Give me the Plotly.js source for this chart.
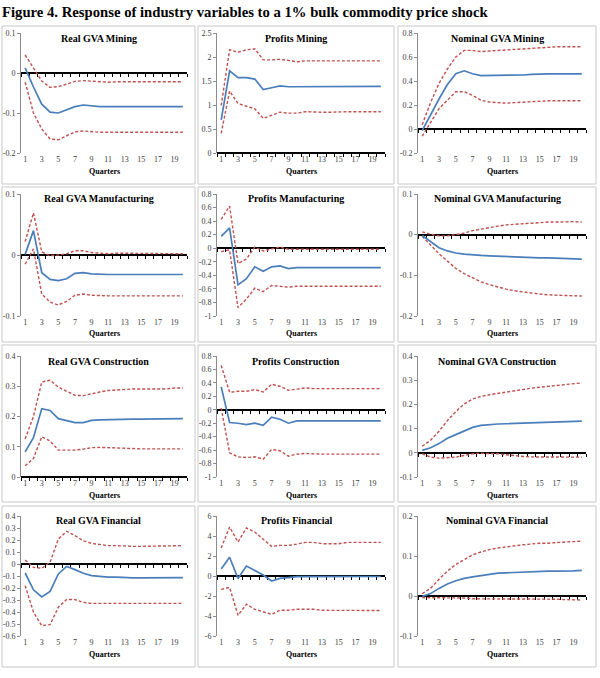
<!DOCTYPE html>
<html>
<head>
<meta charset="utf-8">
<script src="https://cdn.plot.ly/plotly-3.0.1.min.js"></script>
<style>
  html, body { margin: 0; padding: 0; background: #ffffff; }
  #chart { width: 600px; height: 678px; }
</style>
</head>
<body>
<div id="chart"></div>
<script>
// Impulse responses: quarters 1..20, median response with upper/lower bands
const quarters = [1,2,3,4,5,6,7,8,9,10,11,12,13,14,15,16,17,18,19,20];
const quarterTicks = [1,3,5,7,9,11,13,15,17,19];

const realGvaMiningMid   = [0.013,-0.035,-0.078,-0.098,-0.1,-0.092,-0.084,-0.08,-0.082,-0.084,-0.084,-0.084,-0.084,-0.084,-0.084,-0.084,-0.084,-0.084,-0.084,-0.084];
const realGvaMiningUpper = [0.045,0.012,-0.02,-0.036,-0.034,-0.028,-0.021,-0.019,-0.02,-0.022,-0.023,-0.022,-0.022,-0.022,-0.022,-0.022,-0.022,-0.022,-0.022,-0.022];
const realGvaMiningLower = [-0.023,-0.1,-0.14,-0.165,-0.167,-0.157,-0.147,-0.145,-0.147,-0.148,-0.148,-0.148,-0.148,-0.148,-0.148,-0.148,-0.148,-0.148,-0.148,-0.148];

const profitsMiningMid   = [0.69,1.71,1.57,1.57,1.54,1.32,1.36,1.40,1.38,1.38,1.39,1.39,1.38,1.39,1.39,1.39,1.39,1.39,1.39,1.39];
const profitsMiningUpper = [0.99,2.15,2.10,2.15,2.17,1.94,1.94,1.95,1.93,1.90,1.92,1.92,1.92,1.92,1.92,1.92,1.92,1.92,1.92,1.92];
const profitsMiningLower = [0.41,1.29,1.03,0.98,0.92,0.72,0.79,0.85,0.83,0.83,0.86,0.85,0.85,0.85,0.86,0.86,0.86,0.86,0.86,0.86];

const nominalGvaMiningMid   = [-0.014,0.12,0.25,0.37,0.46,0.485,0.46,0.445,0.445,0.445,0.445,0.445,0.45,0.455,0.46,0.46,0.46,0.46,0.46,0.46];
const nominalGvaMiningUpper = [0.036,0.22,0.38,0.5,0.6,0.655,0.655,0.645,0.65,0.655,0.66,0.665,0.67,0.675,0.68,0.685,0.685,0.685,0.685,0.685];
const nominalGvaMiningLower = [-0.06,0.05,0.17,0.24,0.31,0.31,0.28,0.24,0.225,0.22,0.215,0.22,0.225,0.23,0.235,0.235,0.235,0.235,0.235,0.235];

const realGvaManufMid   = [0.001,0.04,-0.029,-0.04,-0.042,-0.039,-0.03,-0.029,-0.031,-0.032,-0.032,-0.032,-0.032,-0.032,-0.032,-0.032,-0.032,-0.032,-0.032,-0.032];
const realGvaManufUpper = [0.022,0.069,0.005,-0.001,0,0.002,0.007,0.007,0.004,0.003,0.002,0.003,0.003,0.003,0.002,0.002,0.002,0.002,0.002,0.002];
const realGvaManufLower = [-0.015,0.01,-0.064,-0.077,-0.082,-0.076,-0.066,-0.064,-0.066,-0.067,-0.067,-0.067,-0.067,-0.067,-0.067,-0.067,-0.067,-0.067,-0.067,-0.067];

const profitsManufMid   = [0.175,0.30,-0.54,-0.45,-0.275,-0.34,-0.275,-0.26,-0.30,-0.285,-0.285,-0.285,-0.285,-0.285,-0.285,-0.285,-0.285,-0.285,-0.285,-0.285];
const profitsManufUpper = [0.425,0.62,-0.225,-0.16,0.015,-0.04,-0.01,0.015,-0.015,-0.015,-0.015,-0.015,-0.015,-0.015,-0.015,-0.015,-0.015,-0.015,-0.015,-0.015];
const profitsManufLower = [-0.05,-0.025,-0.875,-0.75,-0.59,-0.64,-0.55,-0.56,-0.575,-0.56,-0.56,-0.56,-0.56,-0.56,-0.56,-0.56,-0.56,-0.56,-0.56,-0.56];

const nominalGvaManufMid   = [-0.002,-0.018,-0.032,-0.04,-0.045,-0.048,-0.05,-0.051,-0.052,-0.053,-0.054,-0.055,-0.055,-0.056,-0.057,-0.057,-0.058,-0.058,-0.059,-0.06];
const nominalGvaManufUpper = [0.007,0.001,-0.003,-0.003,0,0.004,0.01,0.014,0.018,0.021,0.024,0.026,0.027,0.028,0.03,0.031,0.031,0.032,0.032,0.031];
const nominalGvaManufLower = [-0.004,-0.026,-0.047,-0.065,-0.083,-0.096,-0.106,-0.116,-0.123,-0.129,-0.134,-0.138,-0.141,-0.144,-0.146,-0.148,-0.149,-0.15,-0.151,-0.151];

const realGvaConstrMid   = [0.083,0.13,0.226,0.22,0.193,0.186,0.18,0.18,0.187,0.189,0.19,0.191,0.191,0.191,0.191,0.191,0.191,0.193,0.193,0.193];
const realGvaConstrUpper = [0.126,0.2,0.314,0.32,0.297,0.283,0.27,0.269,0.276,0.281,0.286,0.288,0.29,0.291,0.291,0.291,0.291,0.291,0.294,0.294];
const realGvaConstrLower = [0.037,0.061,0.133,0.119,0.089,0.089,0.089,0.092,0.097,0.098,0.097,0.094,0.093,0.093,0.093,0.093,0.093,0.093,0.093,0.093];

const profitsConstrMid   = [0.34,-0.19,-0.2,-0.22,-0.2,-0.23,-0.11,-0.14,-0.2,-0.165,-0.165,-0.165,-0.165,-0.165,-0.165,-0.165,-0.165,-0.165,-0.165,-0.165];
const profitsConstrUpper = [0.66,0.26,0.275,0.275,0.3,0.265,0.38,0.35,0.29,0.31,0.325,0.315,0.315,0.315,0.315,0.315,0.315,0.315,0.315,0.315];
const profitsConstrLower = [0.025,-0.64,-0.7,-0.71,-0.7,-0.735,-0.59,-0.61,-0.69,-0.66,-0.65,-0.66,-0.66,-0.66,-0.66,-0.66,-0.66,-0.66,-0.66,-0.66];

const nominalGvaConstrMid   = [0.01,0.021,0.038,0.06,0.075,0.091,0.105,0.113,0.117,0.119,0.12,0.121,0.123,0.124,0.126,0.127,0.128,0.13,0.131,0.131];
const nominalGvaConstrUpper = [0.027,0.052,0.089,0.133,0.17,0.202,0.222,0.233,0.24,0.246,0.251,0.255,0.261,0.267,0.271,0.275,0.279,0.282,0.286,0.289];
const nominalGvaConstrLower = [-0.004,-0.018,-0.022,-0.021,-0.018,-0.011,-0.004,-0.002,-0.002,-0.004,-0.008,-0.013,-0.015,-0.017,-0.017,-0.017,-0.018,-0.018,-0.018,-0.018];

const realGvaFinMid   = [-0.075,-0.215,-0.275,-0.228,-0.083,-0.02,-0.047,-0.077,-0.097,-0.105,-0.11,-0.11,-0.116,-0.116,-0.116,-0.116,-0.113,-0.113,-0.113,-0.113];
const realGvaFinUpper = [0.033,-0.028,-0.036,0.014,0.208,0.272,0.236,0.194,0.172,0.16,0.153,0.153,0.147,0.147,0.147,0.147,0.153,0.153,0.153,0.153];
const realGvaFinLower = [-0.18,-0.4,-0.514,-0.505,-0.36,-0.295,-0.297,-0.32,-0.328,-0.328,-0.328,-0.328,-0.333,-0.333,-0.333,-0.333,-0.328,-0.328,-0.328,-0.328];

const profitsFinMid   = [0.7,1.88,-0.24,1.0,0.54,0.1,-0.5,-0.24,-0.17,-0.07,-0.06,-0.05,-0.05,-0.05,-0.05,-0.05,-0.05,-0.05,-0.05,-0.05];
const profitsFinUpper = [2.8,4.9,3.4,4.8,4.4,3.7,2.96,3.06,3.06,3.19,3.36,3.36,3.23,3.23,3.23,3.36,3.36,3.36,3.36,3.36];
const profitsFinLower = [-1.34,-1.14,-3.93,-2.82,-3.33,-3.6,-3.83,-3.43,-3.43,-3.33,-3.33,-3.33,-3.43,-3.43,-3.45,-3.45,-3.45,-3.45,-3.45,-3.45];

const nominalGvaFinMid   = [-0.001,0.006,0.019,0.03,0.038,0.044,0.048,0.051,0.055,0.057,0.058,0.059,0.06,0.061,0.062,0.062,0.062,0.062,0.063,0.064];
const nominalGvaFinUpper = [0.006,0.019,0.042,0.062,0.079,0.092,0.103,0.11,0.116,0.12,0.123,0.126,0.128,0.13,0.132,0.132,0.134,0.135,0.136,0.137];
const nominalGvaFinLower = [-0.004,-0.004,-0.005,-0.005,-0.005,-0.005,-0.007,-0.007,-0.007,-0.008,-0.008,-0.008,-0.008,-0.008,-0.008,-0.008,-0.008,-0.009,-0.01,-0.01];

// Y-axis ticks per panel
const ticksRealMining    = [-0.2,-0.1,0,0.1];
const ticksProfitsMining = [0,0.5,1,1.5,2,2.5];
const ticksNomMining     = [-0.2,0,0.2,0.4,0.6,0.8];
const ticksRealManuf     = [-0.1,0,0.1];
const ticksProfitsManuf  = [-1,-0.8,-0.6,-0.4,-0.2,0,0.2,0.4,0.6,0.8];
const ticksNomManuf      = [-0.2,-0.1,0,0.1];
const ticksRealConstr    = [0,0.1,0.2,0.3,0.4];
const ticksProfitsConstr = [-1,-0.8,-0.6,-0.4,-0.2,0,0.2,0.4,0.6,0.8];
const ticksNomConstr     = [-0.1,0,0.1,0.2,0.3,0.4];
const ticksRealFin       = [-0.6,-0.5,-0.4,-0.3,-0.2,-0.1,0,0.1,0.2,0.3,0.4];
const ticksProfitsFin    = [-6,-4,-2,0,2,4,6];
const ticksNomFin        = [-0.1,0,0.1,0.2];

const panelTitles = [
  'Real GVA Mining','Profits Mining','Nominal GVA Mining',
  'Real GVA Manufacturing','Profits Manufacturing','Nominal GVA Manufacturing',
  'Real GVA Construction','Profits Construction','Nominal GVA Construction',
  'Real GVA Financial','Profits Financial','Nominal GVA Financial'
];

const panels = [
  [realGvaMiningMid, realGvaMiningUpper, realGvaMiningLower, ticksRealMining],
  [profitsMiningMid, profitsMiningUpper, profitsMiningLower, ticksProfitsMining],
  [nominalGvaMiningMid, nominalGvaMiningUpper, nominalGvaMiningLower, ticksNomMining],
  [realGvaManufMid, realGvaManufUpper, realGvaManufLower, ticksRealManuf],
  [profitsManufMid, profitsManufUpper, profitsManufLower, ticksProfitsManuf],
  [nominalGvaManufMid, nominalGvaManufUpper, nominalGvaManufLower, ticksNomManuf],
  [realGvaConstrMid, realGvaConstrUpper, realGvaConstrLower, ticksRealConstr],
  [profitsConstrMid, profitsConstrUpper, profitsConstrLower, ticksProfitsConstr],
  [nominalGvaConstrMid, nominalGvaConstrUpper, nominalGvaConstrLower, ticksNomConstr],
  [realGvaFinMid, realGvaFinUpper, realGvaFinLower, ticksRealFin],
  [profitsFinMid, profitsFinUpper, profitsFinLower, ticksProfitsFin],
  [nominalGvaFinMid, nominalGvaFinUpper, nominalGvaFinLower, ticksNomFin]
];

// Page geometry in pixels
const W = 600, H = 678;
const cols = [
  {x0: 21,  x1: 187, bx0: 2,   bx1: 195},
  {x0: 217, x1: 385, bx0: 198, bx1: 394},
  {x0: 418, x1: 586, bx0: 398, bx1: 596}
];
const rows = [
  {y0: 33,  y1: 153, by0: 26,  by1: 184, ty: 38},
  {y0: 194, y1: 316, by0: 187, by1: 342, ty: 199},
  {y0: 356, y1: 477, by0: 345, by1: 502, ty: 361},
  {y0: 516, y1: 636, by0: 506, by1: 667, ty: 520}
];

const px = x => x / W;
const py = y => 1 - y / H;
const serif = 'Liberation Serif, Times New Roman, serif';
const blue = '#4a7ebb';
const red = '#c0504d';
const boundaries = [];
for (let q = 0; q <= 20; q++) boundaries.push(q + 0.5);

const traces = [];
const layout = {
  width: W, height: H,
  margin: {l: 0, r: 0, t: 0, b: 0},
  paper_bgcolor: '#ffffff',
  plot_bgcolor: '#ffffff',
  showlegend: false,
  title: {
    text: '<b>Figure 4. Response of industry variables to a 1% bulk commodity price shock</b>',
    x: px(2), xref: 'paper', xanchor: 'left',
    y: py(12), yref: 'paper', yanchor: 'middle',
    font: {family: serif, size: 14.7, color: '#000000'}
  },
  shapes: [],
  annotations: []
};

panels.forEach((p, i) => {
  const [mid, upper, lower, yt] = p;
  const c = cols[i % 3], r = rows[Math.floor(i / 3)];
  const n = i + 1;
  const xa = n === 1 ? 'x' : 'x' + n;
  const ya = n === 1 ? 'y' : 'y' + n;
  const za = 'x' + (12 + n);
  const ymin = yt[0], ymax = yt[yt.length - 1];

  // empty trace so the zero-crossing axis gets its own subplot drawn
  traces.push({x: [], y: [], xaxis: za, yaxis: ya, type: 'scatter', mode: 'lines', hoverinfo: 'skip'});
  traces.push({x: quarters, y: upper, xaxis: xa, yaxis: ya, type: 'scatter', mode: 'lines',
    line: {color: red, width: 1.4, dash: '3px,2px'}, hoverinfo: 'skip'});
  traces.push({x: quarters, y: lower, xaxis: xa, yaxis: ya, type: 'scatter', mode: 'lines',
    line: {color: red, width: 1.4, dash: '3px,2px'}, hoverinfo: 'skip'});
  traces.push({x: quarters, y: mid, xaxis: xa, yaxis: ya, type: 'scatter', mode: 'lines',
    line: {color: blue, width: 1.7}, hoverinfo: 'skip'});

  layout['xaxis' + (n === 1 ? '' : n)] = {
    domain: [px(c.x0), px(c.x1)], anchor: ya,
    range: [0.5, 20.5], tickmode: 'array', tickvals: quarterTicks,
    ticktext: quarterTicks.map(String),
    showline: false, ticks: '', showgrid: false, zeroline: false,
    tickfont: {family: serif, size: 8, color: '#404040'}, fixedrange: true
  };
  layout['yaxis' + (n === 1 ? '' : n)] = {
    domain: [py(r.y1), py(r.y0)], anchor: xa,
    range: [ymin, ymax], tickmode: 'array', tickvals: yt, ticktext: yt.map(String),
    showline: true, linecolor: '#8c8c8c', linewidth: 1,
    ticks: 'outside', ticklen: 3, tickcolor: '#8c8c8c',
    showgrid: false, zeroline: false,
    tickfont: {family: serif, size: 8, color: '#404040'}, fixedrange: true
  };

  // Horizontal axis crossing at zero, with category tick marks
  const zeroPx = r.y0 + (ymax - 0) / (ymax - ymin) * (r.y1 - r.y0);
  layout['xaxis' + (12 + n)] = {
    overlaying: xa, anchor: 'free', position: py(zeroPx), layer: 'below traces',
    range: [0.5, 20.5], tickmode: 'array', tickvals: boundaries,
    showticklabels: false, ticks: 'outside', ticklen: 3, tickcolor: '#000000', tickwidth: 1,
    showline: true, linecolor: '#000000', linewidth: 2,
    showgrid: false, zeroline: false, fixedrange: true
  };

  layout.shapes.push({type: 'rect', xref: 'paper', yref: 'paper',
    x0: px(c.bx0), x1: px(c.bx1), y0: py(r.by1), y1: py(r.by0),
    line: {color: '#c8c8c8', width: 1}, fillcolor: 'rgba(0,0,0,0)'});

  layout.annotations.push({text: '<b>' + panelTitles[i] + '</b>', xref: 'paper', yref: 'paper',
    x: px((c.bx0 + c.bx1) / 2), y: py(r.ty), xanchor: 'center', yanchor: 'middle',
    showarrow: false, font: {family: serif, size: 10, color: '#000000'}});
  layout.annotations.push({text: '<b>Quarters</b>', xref: 'paper', yref: 'paper',
    x: px((c.x0 + c.x1) / 2), y: py(r.y1 + 18), xanchor: 'center', yanchor: 'middle',
    showarrow: false, font: {family: serif, size: 8, color: '#000000'}});
});

Plotly.newPlot('chart', traces, layout, {staticPlot: true, displayModeBar: false});
</script>
</body>
</html>
